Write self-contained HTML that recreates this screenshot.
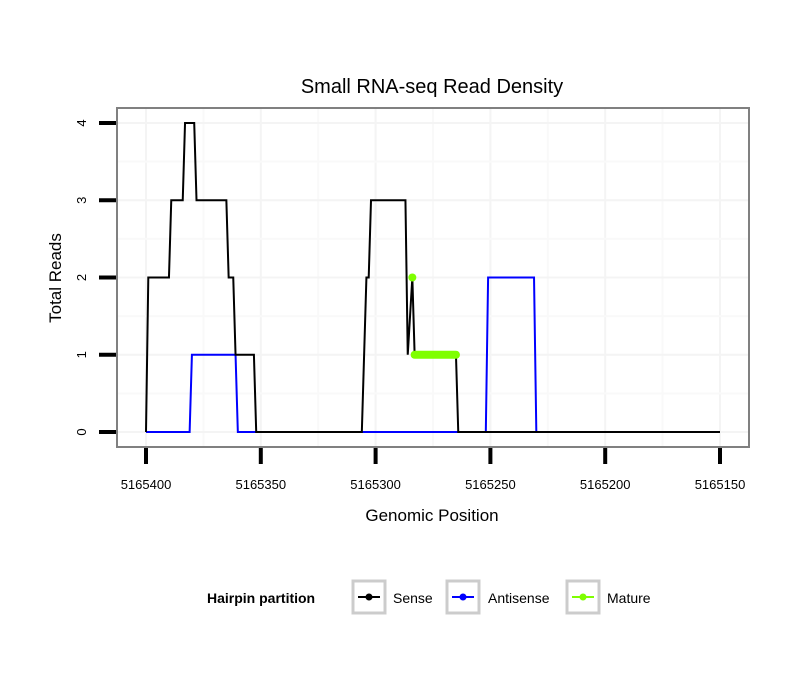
<!DOCTYPE html>
<html><head><meta charset="utf-8"><style>
body{margin:0;background:#fff}
svg text{font-family:"Liberation Sans",Arial,sans-serif}
</style></head><body>
<svg id="chart" width="810" height="690" xmlns="http://www.w3.org/2000/svg">
<rect width="810" height="690" fill="#fff"/>
<g id="grid"></g>
<g id="series"></g>
<rect x="117" y="108" width="632" height="339" fill="none" stroke="#808080" stroke-width="2"/>
<g id="axes"></g>
<text x="432" y="93" text-anchor="middle" font-size="20">Small RNA-seq Read Density</text>
<text x="432" y="521" text-anchor="middle" font-size="17">Genomic Position</text>
<text transform="translate(61,278) rotate(-90)" text-anchor="middle" font-size="17">Total Reads</text>
<g>
<text x="207" y="603" font-size="14" font-weight="bold">Hairpin partition</text>
<g>
<rect x="353" y="581" width="32" height="32" fill="#fff" stroke="#ccc" stroke-width="3"/>
<line x1="358" y1="597" x2="380" y2="597" stroke="#000" stroke-width="2"/><circle cx="369" cy="597" r="3.5" fill="#000"/>
<text x="393" y="603" font-size="14">Sense</text></g>
<g>
<rect x="447" y="581" width="32" height="32" fill="#fff" stroke="#ccc" stroke-width="3"/>
<line x1="452" y1="597" x2="474" y2="597" stroke="#00f" stroke-width="2"/><circle cx="463" cy="597" r="3.5" fill="#00f"/>
<text x="488" y="603" font-size="14">Antisense</text></g>
<g>
<rect x="567" y="581" width="32" height="32" fill="#fff" stroke="#ccc" stroke-width="3"/>
<line x1="572" y1="597" x2="594" y2="597" stroke="#7fff00" stroke-width="2"/><circle cx="583" cy="597" r="3.5" fill="#7fff00"/>
<text x="607" y="603" font-size="14">Mature</text></g>
</g>
</svg>
<script>
const xTicks=[5165400,5165350,5165300,5165250,5165200,5165150];
const yTicks=[0,1,2,3,4];
const senseOffsets=[0,1,10,11,16,17,21,22,35,36,38,39,47,48,94,96,97,98,113,114,116,117,135,136,250];
const senseValues=[0,2,2,3,3,4,4,3,3,2,2,1,1,0,0,2,2,3,3,1,2,1,1,0,0];
const antiOffsets=[0,19,20,39,40,148,149,169,170,250];
const antiValues=[0,0,1,1,0,0,2,2,0,0];
const matureOffsets=[116,117,135];
const matureValues=[2,1,1];
const base=5165400;
const NS='http://www.w3.org/2000/svg';
function X(p){return 146+(5165400-p)*(574/250);}
function Y(v){return 432-v*77.25;}
function mk(t,a,parent){const e=document.createElementNS(NS,t);for(const k in a)e.setAttribute(k,a[k]);parent.appendChild(e);return e;}
const grid=document.getElementById('grid'),series=document.getElementById('series'),axes=document.getElementById('axes');
for(let i=0;i<xTicks.length;i++){
  const l=mk('line',{x1:X(xTicks[i]),x2:X(xTicks[i]),y1:108,y2:447,stroke:'#f4f4f4','stroke-width':2},grid);
  
  
  if(i<xTicks.length-1){const m=(xTicks[i]+xTicks[i+1])/2;
    const g=mk('line',{x1:X(m),x2:X(m),y1:108,y2:447,stroke:'#f9f9f9','stroke-width':2},grid);
    
    }
}
for(let i=0;i<yTicks.length;i++){
  const l=mk('line',{x1:117,x2:749,y1:Y(yTicks[i]),y2:Y(yTicks[i]),stroke:'#f4f4f4','stroke-width':2},grid);
  
  
  if(i<yTicks.length-1){const m=(yTicks[i]+yTicks[i+1])/2;
    const g=mk('line',{x1:117,x2:749,y1:Y(m),y2:Y(m),stroke:'#f9f9f9','stroke-width':2},grid);
    
    }
}
function pts(o,v){return o.map((d,i)=>X(base-d)+','+Y(v[i])).join(' ');}
const bl=mk('polyline',{points:pts(antiOffsets,antiValues),fill:'none',stroke:'#00f','stroke-width':2},series);


const sl=mk('polyline',{points:pts(senseOffsets,senseValues),fill:'none',stroke:'#000','stroke-width':2},series);


const md=mk('circle',{cx:X(base-matureOffsets[0]),cy:Y(matureValues[0]),r:4,fill:'#7fff00'},series);


const ml=mk('polyline',{points:pts(matureOffsets.slice(1),matureValues.slice(1)),fill:'none',stroke:'#7fff00','stroke-width':8,'stroke-linecap':'round'},series);


xTicks.forEach(t=>{
  const l=mk('line',{x1:X(t),x2:X(t),y1:448,y2:464,stroke:'#000','stroke-width':4},axes);
  
  
  const tx=mk('text',{x:X(t),y:489,'text-anchor':'middle','font-size':13},axes);
  tx.textContent=t;
  
  
});
yTicks.forEach(t=>{
  const l=mk('line',{x1:99,x2:116,y1:Y(t),y2:Y(t),stroke:'#000','stroke-width':4},axes);
  
  
  const tx=mk('text',{transform:'translate(86,'+Y(t)+') rotate(-90)','text-anchor':'middle','font-size':13},axes);
  tx.textContent=t;
  
  
});
</script>
</body></html>
